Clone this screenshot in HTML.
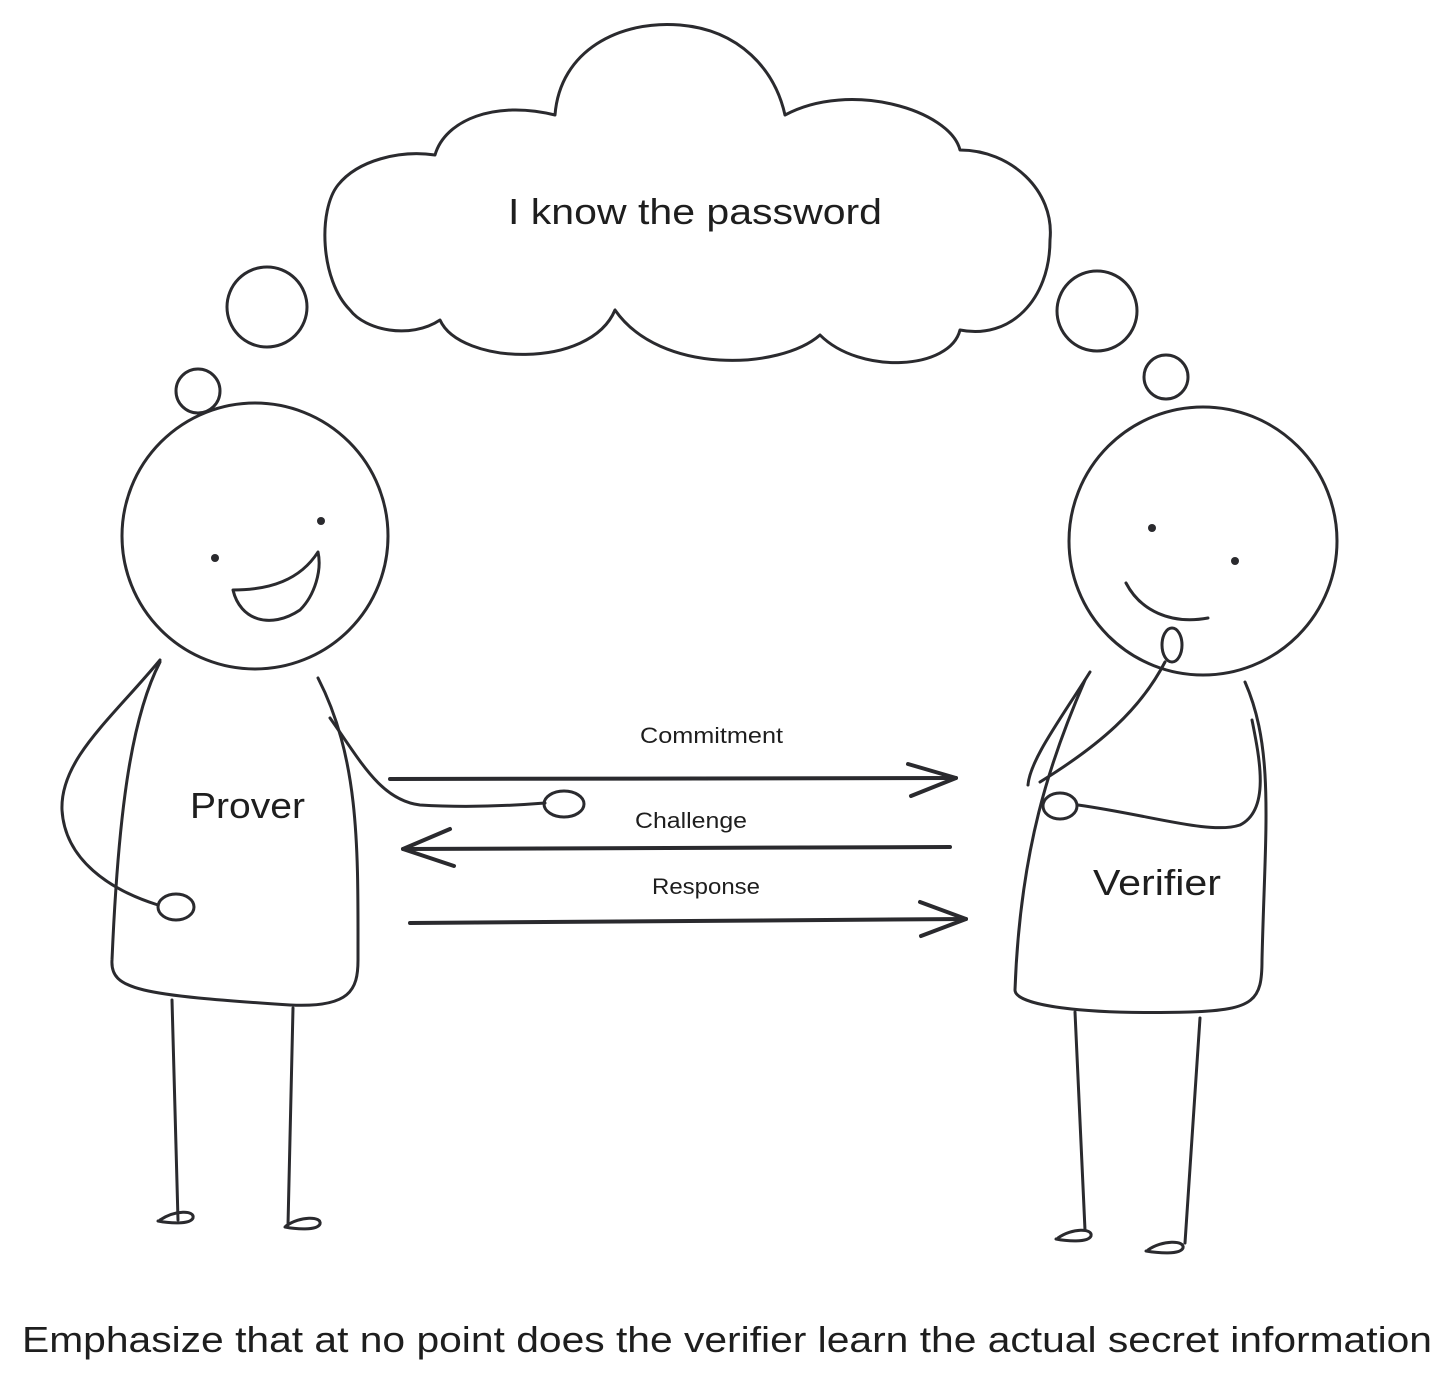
<!DOCTYPE html>
<html><head><meta charset="utf-8"><style>
html,body{margin:0;padding:0;background:#fff;}
svg{display:block;}
text{font-family:"Liberation Sans",sans-serif;fill:#1e1e1e;}
</style></head><body>
<svg width="1454" height="1386" viewBox="0 0 1454 1386" xmlns="http://www.w3.org/2000/svg">
<g fill="none" stroke="#2a2a2e" stroke-width="3" stroke-linecap="round" stroke-linejoin="round">
<path d="M350,310 C320,280 318,210 338,185 C358,160 400,150 435,155 C445,120 495,100 555,115 C560,50 620,20 680,25 C740,30 775,70 785,115 C850,80 950,110 960,150 C1010,150 1055,190 1050,240 C1050,300 1010,340 960,330 C950,370 860,375 820,335 C780,370 660,375 615,310 C590,370 460,365 440,320 C410,340 365,330 350,310 Z"/>
<circle cx="267" cy="307" r="40"/>
<circle cx="198" cy="391" r="22"/>
<circle cx="1097" cy="311" r="40"/>
<circle cx="1166" cy="377" r="22"/>
<circle cx="255" cy="536" r="133"/>
<path d="M233,590 C240,620 270,630 300,610 C315,595 322,570 318,552 C300,580 270,590 233,590 Z"/>
<path d="M160,662 C130,720 118,820 112,960 C110,990 140,995 290,1005 C350,1008 358,990 358,960 C358,850 360,760 318,678"/>
<path d="M160,660 C110,720 60,760 62,810 C65,860 110,890 158,905"/>
<ellipse cx="176" cy="907" rx="18" ry="13"/>
<path d="M330,718 C360,760 380,800 420,805 C470,808 520,805 545,803"/>
<ellipse cx="564" cy="804" rx="20" ry="13"/>
<path d="M172,1000 L178,1220"/>
<path d="M293,1008 L288,1225"/>
<path d="M160,1220 C175,1210 195,1210 193,1218 C190,1225 168,1223 158,1221"/>
<path d="M286,1226 C300,1216 322,1216 320,1224 C317,1231 295,1229 285,1227"/>
<circle cx="1203" cy="541" r="134"/>
<path d="M1126,583 C1140,610 1170,625 1208,618"/>
<ellipse cx="1172" cy="645" rx="10" ry="17"/>
<path d="M1165,662 C1140,710 1100,745 1040,782"/>
<path d="M1090,672 C1060,720 1030,760 1028,785"/>
<path d="M1085,680 C1050,760 1020,850 1015,990 C1015,1005 1080,1015 1190,1012 C1255,1010 1262,1000 1262,960 C1265,830 1275,750 1245,682"/>
<path d="M1252,720 C1260,760 1270,810 1240,825 C1210,835 1150,815 1078,805"/>
<ellipse cx="1060" cy="806" rx="17" ry="13"/>
<path d="M1075,1012 L1085,1230"/>
<path d="M1200,1018 L1185,1243"/>
<path d="M1058,1238 C1072,1228 1093,1228 1091,1236 C1088,1243 1066,1241 1056,1239"/>
<path d="M1148,1250 C1162,1240 1185,1240 1183,1248 C1180,1255 1158,1253 1146,1251"/>
<g stroke-width="4">
<path d="M390,779 L956,778"/>
<path d="M908,764 L956,778 L911,796"/>
<path d="M950,847 L403,849"/>
<path d="M450,829 L403,849 L454,866"/>
<path d="M410,923 L966,919"/>
<path d="M920,902 L966,919 L921,936"/>
</g>
</g>
<g fill="#2a2a2e">
<circle cx="215" cy="558" r="4"/><circle cx="321" cy="521" r="4"/>
<circle cx="1152" cy="528" r="4"/><circle cx="1235" cy="561" r="4"/>
</g>
<text x="508" y="224" font-size="36" textLength="374" lengthAdjust="spacingAndGlyphs">I know the password</text>
<text x="190" y="818" font-size="36" textLength="115" lengthAdjust="spacingAndGlyphs">Prover</text>
<text x="1093" y="895" font-size="36" textLength="128" lengthAdjust="spacingAndGlyphs">Verifier</text>
<text x="640" y="743" font-size="22" textLength="143" lengthAdjust="spacingAndGlyphs">Commitment</text>
<text x="635" y="828" font-size="22" textLength="112" lengthAdjust="spacingAndGlyphs">Challenge</text>
<text x="652" y="894" font-size="22" textLength="108" lengthAdjust="spacingAndGlyphs">Response</text>
<text x="22" y="1352" font-size="36" textLength="1410" lengthAdjust="spacingAndGlyphs">Emphasize that at no point does the verifier learn the actual secret information</text>
</svg>
</body></html>
